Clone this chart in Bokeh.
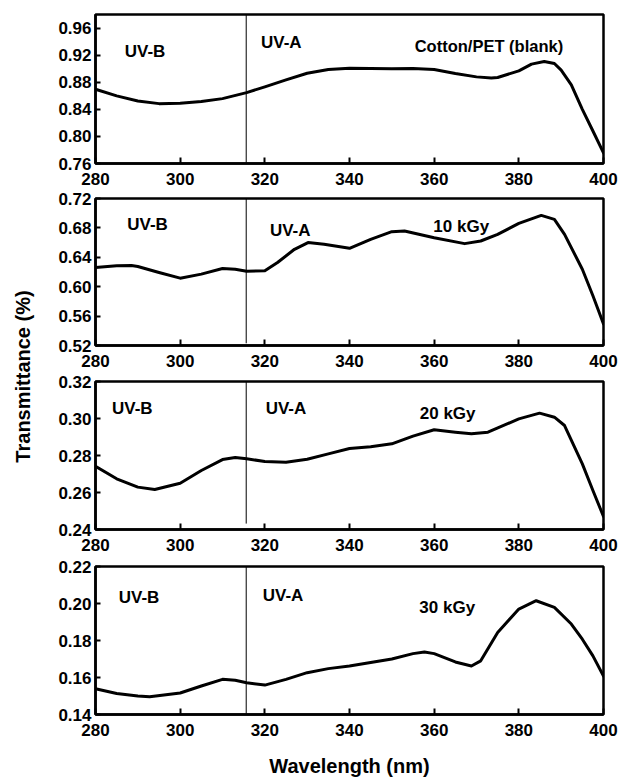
import math
from bokeh.plotting import figure
from bokeh.models import Range1d, FixedTicker, PrintfTickFormatter, Label
from bokeh.layouts import row, column
from bokeh.embed import file_html
from bokeh.resources import INLINE

# ---------------- data ----------------
x_ticks = [280, 300, 320, 340, 360, 380, 400]
uv_boundary = 315.6

panel_labels = ["Cotton/PET (blank)", "10 kGy", "20 kGy", "30 kGy"]

wl_blank = [280, 285, 290, 295, 300, 305, 310, 315.7, 320, 325, 330, 335, 340, 345,
            350, 355, 360, 365, 370, 373.5, 375, 380, 383, 386, 388.4, 390, 392.4,
            395, 397.5, 400]
t_blank = [0.8696, 0.8598, 0.8523, 0.8484, 0.8489, 0.8514, 0.8558, 0.8647, 0.8731,
           0.8835, 0.8933, 0.8988, 0.9007, 0.9002, 0.8998, 0.9002, 0.8988, 0.8928,
           0.8879, 0.8864, 0.8869, 0.8968, 0.9067, 0.9106, 0.9077, 0.8978, 0.8760,
           0.8400, 0.8080, 0.7758]

wl_10 = [280, 285, 288.5, 290, 295, 300, 305, 310, 313, 315.7, 320, 323, 327, 330.2,
         334, 340, 345, 350, 353, 360, 367.2, 371, 375, 380, 385.3, 388.4, 390.8,
         395, 397.5, 400]
t_10 = [0.6261, 0.6284, 0.6288, 0.6275, 0.6193, 0.6116, 0.6171, 0.6247, 0.6238,
        0.6211, 0.6216, 0.6329, 0.6509, 0.6600, 0.6577, 0.6523, 0.6645, 0.6749,
        0.6758, 0.6667, 0.6586, 0.6622, 0.6712, 0.6861, 0.6970, 0.6916, 0.6712,
        0.6238, 0.5877, 0.5493]

wl_20 = [280, 285, 290, 294, 300, 305, 310, 313, 315.7, 320, 325, 330, 335, 340, 345,
         350, 355, 360, 365, 368.8, 372.7, 380, 384.9, 388.4, 390.8, 395, 397.5, 400]
t_20 = [0.2741, 0.2674, 0.2629, 0.2616, 0.2650, 0.2719, 0.2778, 0.2789, 0.2782,
        0.2768, 0.2764, 0.2780, 0.2809, 0.2838, 0.2847, 0.2863, 0.2905, 0.2939,
        0.2926, 0.2917, 0.2926, 0.2998, 0.3029, 0.3007, 0.2962, 0.2755, 0.2611,
        0.2470]

wl_30 = [280, 285, 290, 292.8, 300, 305, 310, 313, 315.7, 320, 325, 330, 335, 340,
         345, 350, 355, 357.7, 360, 365, 368.8, 371, 375, 380, 384.1, 388.4, 392.4,
         395, 397.5, 400]
t_30 = [0.1539, 0.1514, 0.1500, 0.1496, 0.1516, 0.1554, 0.1590, 0.1585, 0.1572,
        0.1559, 0.1590, 0.1626, 0.1648, 0.1662, 0.1681, 0.1700, 0.1729, 0.1738,
        0.1729, 0.1684, 0.1662, 0.1690, 0.1843, 0.1970, 0.2015, 0.1979, 0.1889,
        0.1807, 0.1717, 0.1608]

y_ranges = [(0.76, 0.98), (0.52, 0.72), (0.24, 0.32), (0.14, 0.22)]
y_ticks = [
    [0.76, 0.80, 0.84, 0.88, 0.92, 0.96],
    [0.52, 0.56, 0.60, 0.64, 0.68, 0.72],
    [0.24, 0.26, 0.28, 0.30, 0.32],
    [0.14, 0.16, 0.18, 0.20, 0.22],
]

# ---------------- styling / layout ----------------
FONT = "Liberation Sans"
LEFT_W = 45
PW = 574
OVERLAP = 14
heights = [198, 197, 199, 227]
tops = [14, 14, 14, 14]
bottoms = [35, 36, 37, 65]

# annotation positions (data coords): (uvb_x, uvb_y, uva_x, uva_y, lab_x, lab_y)
ann = [
    (286.9, 0.9249, 319.1, 0.9388, 355.4, 0.9338),
    (287.5, 0.6846, 321.2, 0.6765, 359.8, 0.6823),
    (283.9, 0.3052, 320.2, 0.3052, 356.6, 0.3025),
    (285.5, 0.2031, 319.5, 0.2042, 356.5, 0.1980),
]
label_sizes = ["16.5px", "17px", "17px", "17px"]
vline_y0 = [0.76, 0.523, 0.2432, 0.14]

series = [(wl_blank, t_blank), (wl_10, t_10), (wl_20, t_20), (wl_30, t_30)]

figs = []
for i in range(4):
    p = figure(width=PW, height=heights[i], output_backend="svg",
               toolbar_location=None,
               x_range=Range1d(280, 400),
               y_range=Range1d(*y_ranges[i]),
               min_border_left=50, min_border_right=16,
               min_border_top=tops[i], min_border_bottom=bottoms[i],
               margin=(0 if i == 0 else -OVERLAP, 0, 0, 0))
    p.background_fill_color = "white"
    p.border_fill_color = None
    p.outline_line_color = "black"
    p.outline_line_width = 2.5
    p.grid.visible = False

    xa = p.xaxis[0]
    xa.ticker = FixedTicker(ticks=x_ticks)
    xa.axis_line_width = 2.5
    xa.axis_line_color = "black"
    xa.major_tick_in = 6
    xa.major_tick_out = 0
    xa.major_tick_line_width = 2
    xa.minor_tick_line_color = None
    xa.major_label_text_font = FONT
    xa.major_label_text_font_style = "bold"
    xa.major_label_text_color = "black"
    xa.major_label_text_font_size = "17px"
    xa.major_label_standoff = 9
    if i == 3:
        xa.axis_label = "Wavelength (nm)"
        xa.axis_label_text_font = FONT
        xa.axis_label_text_font_style = "bold"
        xa.axis_label_text_font_size = "20px"
        xa.axis_label_text_color = "black"
        xa.axis_label_standoff = 16

    ya = p.yaxis[0]
    ya.ticker = FixedTicker(ticks=y_ticks[i])
    ya.formatter = PrintfTickFormatter(format="%.2f")
    ya.axis_line_width = 2.5
    ya.axis_line_color = "black"
    ya.major_tick_in = 5
    ya.major_tick_out = 0
    ya.major_tick_line_width = 2
    ya.minor_tick_line_color = None
    ya.major_label_standoff = 4
    ya.major_label_text_font = FONT
    ya.major_label_text_font_style = "bold"
    ya.major_label_text_font_size = "17px"
    ya.major_label_text_color = "black"

    # UV-B / UV-A boundary
    p.segment(x0=[uv_boundary], y0=[vline_y0[i]], x1=[uv_boundary],
              y1=[y_ranges[i][1]], line_color="black", line_width=1)

    wl, tt = series[i]
    p.line(wl, tt, line_color="black", line_width=3, line_join="round",
           line_cap="round")

    a = ann[i]
    for txt, x, y, fs in (("UV-B", a[0], a[1], "17px"), ("UV-A", a[2], a[3], "17px"),
                          (panel_labels[i], a[4], a[5], label_sizes[i])):
        p.add_layout(Label(x=x, y=y, text=txt, text_font=FONT,
                           text_font_style="bold", text_font_size=fs,
                           text_color="black", text_align="left",
                           text_baseline="alphabetic"))
    figs.append(p)

# narrow figure carrying the shared y-axis title
lab = figure(width=LEFT_W, height=779, output_backend="svg",
             toolbar_location=None, x_range=Range1d(0, LEFT_W),
             y_range=Range1d(0, 779), min_border=0,
             min_border_left=0, min_border_right=0,
             min_border_top=0, min_border_bottom=0)
lab.axis.visible = False
lab.grid.visible = False
lab.outline_line_color = None
lab.border_fill_color = None
lab.background_fill_color = None
lab.add_layout(Label(x=22.5, y=779 - 376, text="Transmittance (%)",
                     angle=math.pi / 2, text_font=FONT, text_font_style="bold",
                     text_font_size="20px", text_color="black",
                     text_align="center", text_baseline="middle"))

layout = row(lab, column(*figs, spacing=0), spacing=0)

open("out.html", "w").write(file_html(layout, INLINE))
